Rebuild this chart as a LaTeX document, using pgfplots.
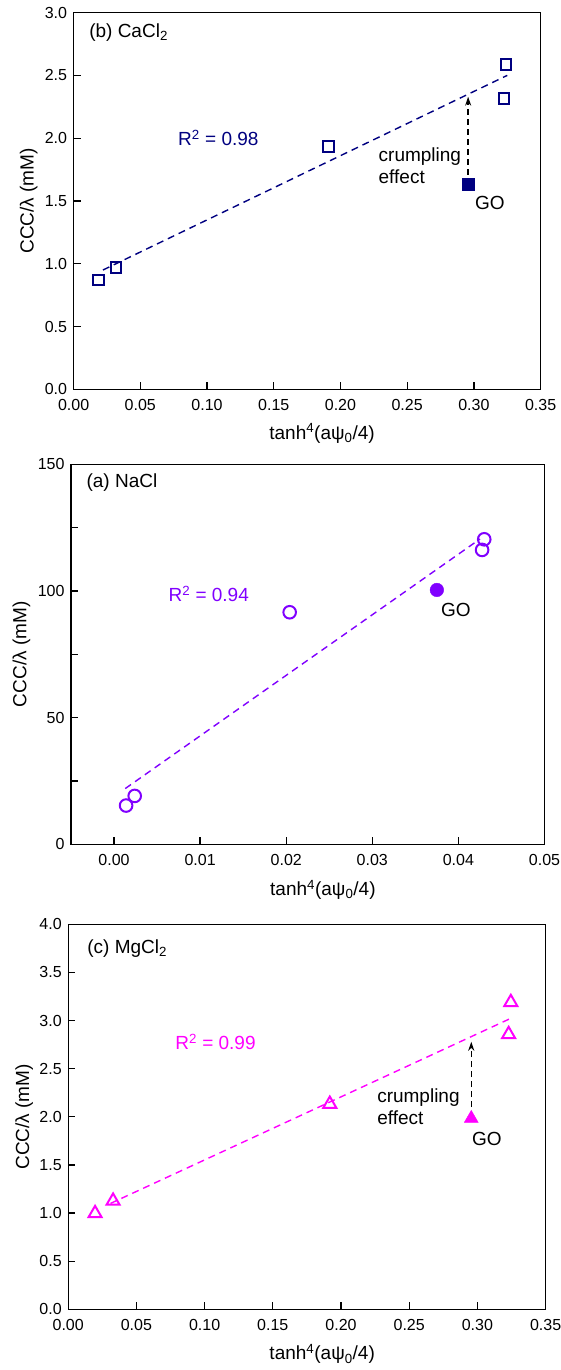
\documentclass[border=0pt]{standalone}
\usepackage{fontspec}
\setmainfont{Liberation Sans}
\usepackage{pgfplots}
\pgfplotsset{compat=1.18}
\usetikzlibrary{arrows.meta}
\definecolor{navyc}{RGB}{0,0,128}
\definecolor{violc}{RGB}{128,0,255}
\definecolor{magc}{RGB}{255,0,255}
\tikzset{
  fitline/.style={line width=1.4pt, dash pattern=on 7pt off 5pt},
  arr/.style={black, line width=1.4pt, dash pattern=on 6pt off 4pt, -{Stealth[length=9pt,width=6pt]}},
  annot/.style={font=\fontsize{19}{22}\selectfont},
}
\pgfplotsset{
  every axis/.append style={
    scale only axis,
    axis line style={line width=1.3pt},
    tick style={black, line width=1.3pt},
    tick align=inside,
    tick pos=left,
    major tick length=7pt,
    minor tick length=7pt,
    tick label style={font=\fontsize{16}{18}\selectfont},
    label style={font=\fontsize{19}{22}\selectfont},
    /pgf/number format/assume math mode=true,
    xticklabel style={anchor=center, yshift=-16pt},
    yticklabel style={xshift=-3pt},
    scaled ticks=false,
    clip=false,
    xlabel={tanh\textsuperscript{4}(aψ\textsubscript{0}/4)},
    ylabel={CCC/λ (mM)},
  },
}
\begin{document}
\begin{tikzpicture}
\path[use as bounding box] (0,0) rectangle (560pt,-1370pt);

% ---------- (b) CaCl2 ----------
\begin{axis}[at={(73.6pt,-389.3pt)}, anchor=south west, width=467pt, height=376.7pt,
  xmin=0, xmax=0.35, ymin=0, ymax=3,
  xtick={0,0.05,0.10,0.15,0.20,0.25,0.30,0.35},
  ytick={0,0.5,1.0,1.5,2.0,2.5,3.0},
  xticklabel style={/pgf/number format/.cd, fixed, fixed zerofill, precision=2},
  yticklabel style={/pgf/number format/.cd, fixed, fixed zerofill, precision=1},
  xlabel style={at={(axis description cs:0.532,-0.117)}, anchor=center},
  ylabel style={at={(axis description cs:-0.096,0.5)}, anchor=center}]
\addplot[navyc, fitline] coordinates {(0.022,0.95) (0.325,2.50)};
\addplot[arr] coordinates {(0.2957,1.71) (0.2957,2.33)};
\addplot[only marks, mark=square, mark size=5.3pt, navyc, mark options={line width=2pt}] coordinates {
(0.0188,0.871) (0.0317,0.972) (0.191,1.933) (0.324,2.588) (0.3226,2.318)};
\addplot[only marks, mark=square*, mark size=6.2pt, navyc] coordinates {(0.2957,1.635)};
\node[annot, anchor=west] at (rel axis cs:0.026,0.947) {(b) CaCl\textsubscript{2}};
\node[annot, navyc] at (axis cs:0.1085,2.0) {R\textsuperscript{2} = 0.98};
\node[annot, anchor=west, align=left] at (axis cs:0.226,1.778) {crumpling\\effect};
\node[annot] at (axis cs:0.312,1.484) {GO};
\end{axis}

% ---------- (a) NaCl ----------
\begin{axis}[at={(71pt,-844.3pt)}, anchor=south west, width=473.5pt, height=380pt,
  xmin=-0.005, xmax=0.05, ymin=0, ymax=150,
  xtick={0,0.01,0.02,0.03,0.04,0.05},
  ytick={0,50,100,150}, minor ytick={25,75,125},
  xticklabel style={/pgf/number format/.cd, fixed, fixed zerofill, precision=2},
  xlabel style={at={(axis description cs:0.532,-0.120)}, anchor=center},
  ylabel style={at={(axis description cs:-0.1045,0.5)}, anchor=center}]
\addplot[violc, fitline] coordinates {(0.0013,22) (0.0425,120.5)};
\addplot[only marks, mark=o, mark size=6.3pt, violc, mark options={line width=2pt}] coordinates {
(0.0014,15.3) (0.0024,19.1) (0.0204,91.6) (0.0430,120.4) (0.04275,116.2)};
\addplot[only marks, mark=*, mark size=6.8pt, violc] coordinates {(0.0375,100.4)};
\node[annot, anchor=west] at (axis cs:-0.0036,142.8) {(a) NaCl};
\node[annot, violc] at (axis cs:0.011,98.8) {R\textsuperscript{2} = 0.94};
\node[annot] at (axis cs:0.0397,92.5) {GO};
\end{axis}

% ---------- (c) MgCl2 ----------
\begin{axis}[at={(68.2pt,-1309.3pt)}, anchor=south west, width=477.4pt, height=385pt,
  xmin=0, xmax=0.35, ymin=0, ymax=4,
  xtick={0,0.05,0.10,0.15,0.20,0.25,0.30,0.35},
  ytick={0,0.5,1.0,1.5,2.0,2.5,3.0,3.5,4.0},
  xticklabel style={/pgf/number format/.cd, fixed, fixed zerofill, precision=2},
  yticklabel style={/pgf/number format/.cd, fixed, fixed zerofill, precision=1},
  xlabel style={at={(axis description cs:0.532,-0.116)}, anchor=center},
  ylabel style={at={(axis description cs:-0.092,0.5)}, anchor=center}]
\addplot[magc, fitline] coordinates {(0.031,1.10) (0.324,3.02)};
\addplot[arr] coordinates {(0.2955,2.10) (0.2955,2.78)};
\addplot[only marks, mark=triangle, mark size=7.5pt, magc, mark options={line width=2pt}] coordinates {
(0.0197,0.997) (0.0329,1.126) (0.1918,2.133) (0.3245,3.19) (0.3229,2.857)};
\addplot[only marks, mark=triangle*, mark size=8pt, magc] coordinates {(0.2955,1.984)};
\node[annot, anchor=west] at (axis cs:0.0115,3.75) {(c) MgCl\textsubscript{2}};
\node[annot, magc] at (axis cs:0.108,2.78) {R\textsuperscript{2} = 0.99};
\node[annot, anchor=west, align=left] at (axis cs:0.224,2.10) {crumpling\\effect};
\node[annot] at (axis cs:0.307,1.766) {GO};
\end{axis}
\end{tikzpicture}
\end{document}
